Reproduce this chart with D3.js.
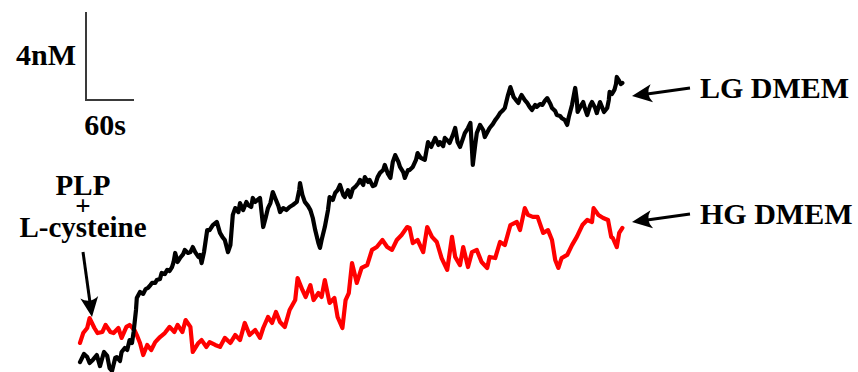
<!DOCTYPE html>
<html>
<head>
<meta charset="utf-8">
<script src="https://cdn.jsdelivr.net/npm/d3@7"></script>
<style>
  html, body { margin: 0; padding: 0; background: #fff; }
  svg { display: block; }
  text { font-family: "Liberation Serif", "Times New Roman", serif; font-weight: bold; fill: #000; }
</style>
</head>
<body>
<svg id="chart" width="858" height="372"></svg>
<script>
// H2S trace after PLP + L-cysteine addition: [time (s), concentration (nM)]
const lgDmem = [
  [0,0.45],[5,0.82],[9,0.68],[12,0.41],[16,0.55],[21,0.77],[25,0.27],[30,0.91],[34,0.73],[37,0.18],
  [40,0.05],[44,0.64],[46,0.68],[50,0.5],[52,0.91],[56,1.09],[59,1.0],[62,1.45],[65,1.32],[67,1.82],
  [70,2.82],[71,3.36],[75,3.64],[79,3.55],[82,3.77],[85,3.82],[88,3.95],[90,4.05],[94,4.05],[96,4.18],
  [100,4.23],[102,4.5],[106,4.45],[109,4.64],[112,4.59],[115,4.77],[117,5.0],[119,5.41],[122,5.0],[125,5.18],
  [129,5.36],[131,5.55],[135,5.41],[138,5.45],[141,5.68],[144,5.45],[148,5.23],[150,5.32],[152,4.95],[155,5.45],
  [159,6.45],[162,6.45],[166,6.68],[171,6.82],[175,6.32],[178,6.14],[181,6.0],[185,5.45],[188,5.77],[191,7.14],
  [194,7.45],[198,7.27],[200,7.68],[204,7.36],[208,7.73],[210,7.59],[214,7.5],[216,7.91],[219,7.73],[222,7.82],
  [225,7.91],[229,6.59],[232,7.0],[235,7.45],[238,7.68],[241,8.18],[245,7.82],[248,7.55],[250,7.27],[254,7.45],
  [258,7.36],[262,7.5],[266,7.59],[271,7.73],[274,8.27],[275,8.59],[278,8.05],[281,7.73],[285,7.55],[288,7.36],
  [291,7.0],[294,6.45],[298,5.86],[300,5.64],[302,6.0],[306,6.59],[310,7.36],[312,7.95],[316,7.82],[319,8.14],
  [322,8.27],[325,8.5],[329,8.05],[331,7.95],[335,8.27],[338,7.95],[341,8.32],[344,8.41],[348,8.59],[350,8.73],
  [354,8.5],[356,8.86],[360,8.64],[362,8.73],[366,8.45],[369,8.5],[372,8.86],[375,9.05],[379,9.18],[381,9.41],
  [385,9.0],[388,8.82],[391,9.55],[394,9.86],[398,9.55],[400,9.32],[404,9.09],[406,8.82],[410,9.18],[412,9.18],
  [416,9.32],[420,9.64],[422,9.95],[426,9.73],[431,9.64],[435,10.45],[439,10.23],[444,10.64],[448,10.32],[450,10.45],
  [454,10.27],[456,10.64],[460,10.5],[462,10.41],[466,10.77],[469,11.09],[472,10.45],[475,10.23],[479,10.64],[481,10.86],
  [485,11.09],[488,11.32],[490,10.09],[491,9.41],[494,10.32],[496,10.86],[500,11.23],[504,11.0],[506,10.68],[510,10.95],
  [512,11.09],[516,11.27],[519,11.45],[522,11.59],[525,11.77],[529,11.91],[531,12.0],[535,12.59],[538,12.95],[540,12.73],
  [542,12.5],[545,12.36],[548,12.23],[550,12.45],[552,12.59],[556,12.36],[559,12.23],[562,12.05],[565,11.91],[569,12.14],
  [571,12.05],[575,12.18],[578,12.14],[581,12.32],[584,12.45],[588,12.18],[590,12.0],[594,11.86],[596,11.68],[600,11.64],
  [602,11.55],[606,11.45],[609,11.23],[611,11.59],[615,12.14],[619,12.91],[621,12.36],[622,11.82],[626,12.09],[629,12.27],
  [631,12.0],[634,11.68],[638,12.14],[640,12.27],[644,12.0],[646,11.77],[650,12.27],[652,12.09],[655,11.82],[659,12.0],
  [661,12.36],[662,12.73],[665,12.64],[668,12.82],[670,13.09],[671,13.41],[674,13.23],[676,13.09],[678,13.14]
];

const hgDmem = [
  [0,1.32],[4,1.77],[9,2.0],[12,2.45],[18,2.0],[22,1.77],[28,1.82],[32,2.14],[38,1.82],[42,1.77],
  [48,2.0],[52,1.55],[58,2.05],[62,2.14],[68,1.91],[71,1.68],[75,1.32],[79,0.77],[84,1.23],[89,1.0],
  [94,1.36],[100,1.59],[106,1.77],[112,2.05],[118,1.82],[122,2.14],[128,1.82],[132,2.36],[138,2.05],[141,0.91],
  [148,1.32],[152,1.45],[158,1.14],[162,1.36],[169,1.23],[175,1.14],[181,1.55],[188,1.32],[194,1.68],[200,1.45],
  [206,2.23],[212,1.68],[219,1.91],[225,1.55],[229,2.0],[235,2.5],[240,2.23],[245,2.73],[250,2.27],[256,2.05],
  [262,2.82],[269,3.27],[272,4.27],[278,3.73],[282,3.41],[288,3.95],[292,3.27],[298,3.59],[302,3.41],[306,4.18],
  [312,3.14],[318,3.36],[322,2.5],[328,2.0],[332,3.27],[336,3.59],[340,4.95],[346,4.05],[352,4.73],[359,4.86],
  [365,5.55],[371,5.68],[378,6.0],[384,5.68],[390,5.55],[396,6.0],[402,6.23],[409,6.59],[412,6.55],[416,5.86],
  [422,6.0],[429,5.45],[434,6.59],[440,6.14],[446,5.91],[452,5.18],[459,4.64],[465,6.14],[469,5.23],[475,4.86],
  [479,5.68],[485,4.77],[490,5.45],[496,5.55],[502,5.0],[509,4.73],[512,5.23],[519,5.18],[525,5.91],[531,5.77],
  [538,6.68],[546,6.82],[550,6.45],[556,7.45],[560,7.14],[566,7.05],[572,7.05],[579,6.32],[585,6.45],[590,6.0],
  [594,5.09],[598,4.73],[602,5.18],[609,5.32],[615,5.77],[621,6.14],[628,6.68],[634,6.91],[640,6.82],[642,7.45],
  [648,7.14],[654,7.0],[660,6.91],[664,6.14],[666,6.09],[671,5.68],[674,6.32],[678,6.55]
];

// Scale bar sizes
const barConc = 4;   // nM
const barTime = 60;  // s
const barLabels = ["4nM", "60s"];

// Annotation text
const seriesLabels = ["LG DMEM", "HG DMEM"];
const treatmentLabel = ["PLP", "+", "L-cysteine"];

const svg = d3.select("#chart");

const x = d3.scaleLinear().domain([0, 60]).range([80, 128]);
const y = d3.scaleLinear().domain([0, 4]).range([372, 284]);

const line = d3.line()
  .x(d => x(d[0]))
  .y(d => y(d[1]))
  .curve(d3.curveLinear);

svg.append("path")
  .datum(hgDmem)
  .attr("d", line)
  .attr("fill", "none")
  .attr("stroke", "#ff0000")
  .attr("stroke-width", 4.2)
  .attr("stroke-linejoin", "round")
  .attr("stroke-linecap", "round");

svg.append("path")
  .datum(lgDmem)
  .attr("d", line)
  .attr("fill", "none")
  .attr("stroke", "#000")
  .attr("stroke-width", 4.2)
  .attr("stroke-linejoin", "round")
  .attr("stroke-linecap", "round");

// Scale bar (L shape): vertical = 4 nM, horizontal = 60 s
const barX = 86, barY = 100;
const barH = y(0) - y(barConc);
const barW = x(barTime) - x(0);
svg.append("path")
  .attr("d", `M${barX},${barY - barH}V${barY}H${barX + barW}`)
  .attr("fill", "none")
  .attr("stroke", "#3a3a3a")
  .attr("stroke-width", 2);

svg.append("text")
  .attr("x", 76).attr("y", 65)
  .attr("text-anchor", "end")
  .attr("font-size", 30)
  .text(barLabels[0]);

svg.append("text")
  .attr("x", 105).attr("y", 135)
  .attr("text-anchor", "middle")
  .attr("font-size", 30)
  .text(barLabels[1]);

// Series labels with arrows
function arrow(x1, y1, x2, y2) {
  const ang = Math.atan2(y2 - y1, x2 - x1) * 180 / Math.PI;
  const len = Math.hypot(x2 - x1, y2 - y1);
  const g = svg.append("g")
    .attr("transform", `translate(${x2},${y2}) rotate(${ang})`);
  g.append("line")
    .attr("x1", -len).attr("y1", 0)
    .attr("x2", -8).attr("y2", 0)
    .attr("stroke", "#000")
    .attr("stroke-width", 3);
  g.append("path")
    .attr("d", "M0,0 L-20,-9 Q-13,0 -20,9 Z")
    .attr("fill", "#000");
}

arrow(690, 88, 632, 96);
arrow(690, 214, 632, 222);

svg.append("text")
  .attr("x", 700).attr("y", 98)
  .attr("font-size", 30)
  .text(seriesLabels[0]);

svg.append("text")
  .attr("x", 700).attr("y", 224)
  .attr("font-size", 30)
  .text(seriesLabels[1]);

// Treatment annotation, stacked tightly as three lines
svg.append("text")
  .attr("x", 83).attr("y", 195)
  .attr("text-anchor", "middle")
  .attr("font-size", 29)
  .text(treatmentLabel[0]);
svg.append("text")
  .attr("x", 83).attr("y", 215)
  .attr("text-anchor", "middle")
  .attr("font-size", 27)
  .text(treatmentLabel[1]);
svg.append("text")
  .attr("x", 83).attr("y", 237)
  .attr("text-anchor", "middle")
  .attr("font-size", 29)
  .text(treatmentLabel[2]);

arrow(83, 252, 92, 317);
</script>
</body>
</html>
